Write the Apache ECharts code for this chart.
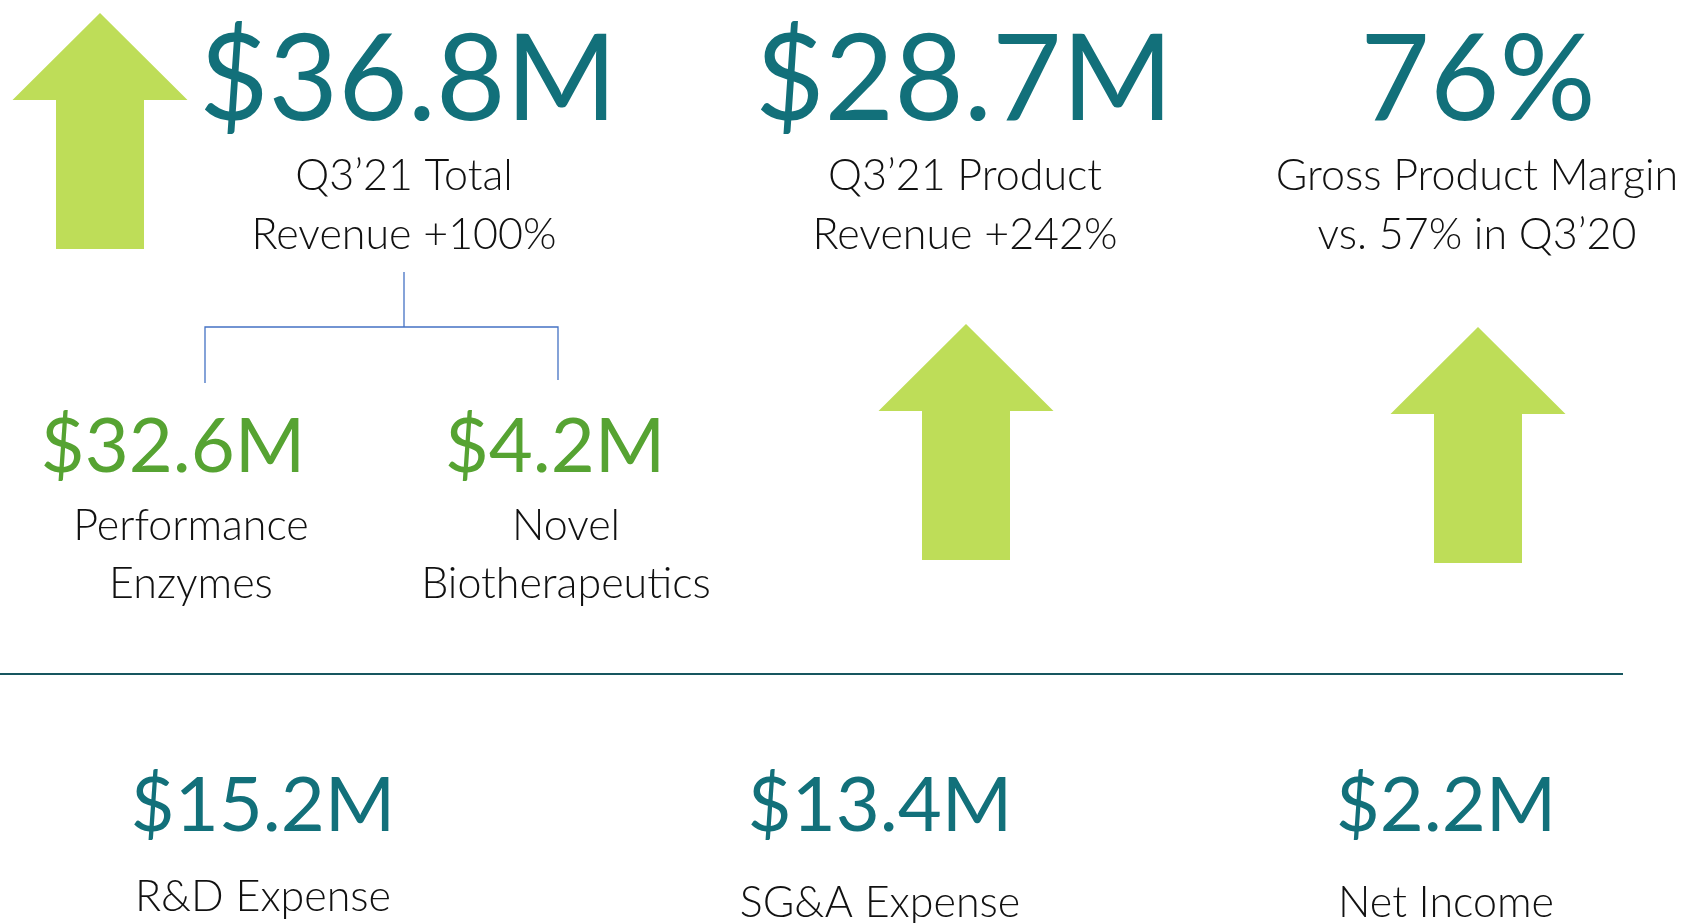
<!DOCTYPE html>
<html>
<head>
<meta charset="utf-8">
<script src="https://cdn.jsdelivr.net/npm/echarts@6/dist/echarts.min.js"></script>
<style>
  html, body { margin: 0; padding: 0; background: #fff; }
  #main { width: 1691px; height: 923px; }
</style>
</head>
<body>
<div id="main"></div>
<script>
// headline numbers
var headlineValues = ['$36.8M', '$28.7M', '76%'];
var headlineLabels = [
  ['Q3\u201921 Total', 'Revenue +100%'],
  ['Q3\u201921 Product', 'Revenue +242%'],
  ['Gross Product Margin', 'vs. 57% in Q3\u201920']
];
// revenue split under total revenue
var segmentValues = ['$32.6M', '$4.2M'];
var segmentLabels = [['Performance', 'Enzymes'], ['Novel', 'Biotherapeutics']];
// bottom row
var expenseValues = ['$15.2M', '$13.4M', '$2.2M'];
var expenseLabels = ['R&D Expense', 'SG&A Expense', 'Net Income'];

var TEAL = '#12707A';
var GREEN = '#56A332';
var ARROW = '#BEDD58';
var FONT = 'Lato, "Open Sans", sans-serif';
var K = 0.32; // baseline offset from middle, in em

var chart = echarts.init(document.getElementById('main'), null, { renderer: 'canvas' });

function txt(str, cx, baseline, size, color, weight) {
  return {
    type: 'text',
    style: {
      text: str,
      x: cx,
      y: baseline - K * size,
      font: (weight || 400) + ' ' + size + 'px ' + FONT,
      fill: color,
      align: 'center',
      verticalAlign: 'middle',
      textAlign: 'center',
      textVerticalAlign: 'middle'
    }
  };
}

function label(str, cx, baseline) {
  return txt(str, cx, baseline, 43, '#111', 300);
}

function upArrow(cx, tipY, baseY, bottomY) {
  var hw = 87.5, sw = 44;
  return {
    type: 'polygon',
    shape: {
      points: [
        [cx, tipY], [cx + hw, baseY], [cx + sw, baseY], [cx + sw, bottomY],
        [cx - sw, bottomY], [cx - sw, baseY], [cx - hw, baseY]
      ]
    },
    style: { fill: ARROW }
  };
}

var els = [];

// top row
var headX = [408, 964, 1478];
var headLabelX = [404, 965, 1477];
headlineValues.forEach(function (v, i) {
  els.push(txt(v, headX[i], 120, 120, TEAL));
  els.push(label(headlineLabels[i][0], headLabelX[i], 190));
  els.push(label(headlineLabels[i][1], headLabelX[i], 249));
});

// arrows
els.push(upArrow(100, 13, 100, 249));
els.push(upArrow(966, 324, 411, 560));
els.push(upArrow(1478, 327, 414, 563));

// bracket
els.push({
  type: 'polyline',
  shape: { points: [[404, 272], [404, 327]] },
  style: { stroke: '#4472C4', lineWidth: 1.3, fill: null }
});
els.push({
  type: 'polyline',
  shape: { points: [[205, 383], [205, 327], [558, 327], [558, 380]] },
  style: { stroke: '#4472C4', lineWidth: 1.3, fill: null }
});

// segments
var segX = [173, 555];
var segLabelX = [191, 566];
segmentValues.forEach(function (v, i) {
  els.push(txt(v, segX[i], 472, 76, GREEN));
  els.push(label(segmentLabels[i][0], segLabelX[i], 540));
  els.push(label(segmentLabels[i][1], segLabelX[i], 598));
});

// divider
els.push({
  type: 'line',
  shape: { x1: 0, y1: 674, x2: 1623, y2: 674 },
  style: { stroke: '#17565F', lineWidth: 2 }
});

// bottom row
var expX = [263, 880, 1446];
var expBase = [911, 917, 917];
expenseValues.forEach(function (v, i) {
  els.push(txt(v, expX[i], 831, 76, TEAL));
  els.push(label(expenseLabels[i], expX[i], expBase[i]));
});

chart.setOption({
  backgroundColor: '#fff',
  animation: false,
  graphic: { elements: els }
});
</script>
</body>
</html>
